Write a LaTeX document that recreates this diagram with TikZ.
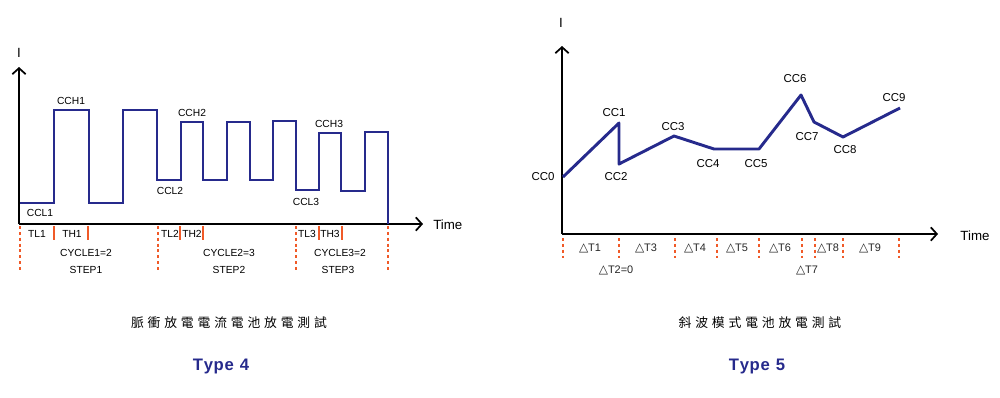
\documentclass[tikz,border=0pt]{standalone}
\usepackage{fontspec}
\setmainfont{Liberation Sans}
\newfontfamily\cjkfont[LetterSpace=30]{Noto Sans CJK TC}
\newfontfamily\trifont{DejaVu Sans}
\usetikzlibrary{arrows.meta}
\definecolor{wave}{HTML}{262A8C}
\definecolor{mark}{HTML}{F05A28}
\definecolor{typeblue}{HTML}{262A8C}
\newcommand{\tri}{{\trifont\fontsize{9}{10}\selectfont △}}
\begin{document}
\begin{tikzpicture}[x=0.75pt,y=-0.75pt,
  axis/.style={line width=1.3pt,-{Straight Barb[length=4.5pt,width=10pt,line width=1.3pt]}},
  waveline/.style={draw=wave,line width=1.1pt,line join=miter},
  rampline/.style={draw=wave,line width=2.2pt,line join=round},
  dashmark/.style={draw=mark,line width=1.1pt,dash pattern=on 2.2pt off 2.2pt},
  tickmark/.style={draw=mark,line width=1.1pt},
  lbl/.style={inner sep=0pt,font=\fontsize{7.7}{9}\selectfont},
  clbl/.style={inner sep=0pt,font=\fontsize{8.6}{10}\selectfont},
  tlbl/.style={inner sep=0pt,font=\fontsize{8.2}{10}\selectfont,text=black!85},
  axlbl/.style={inner sep=0pt,font=\fontsize{10}{12}\selectfont},
  captext/.style={inner sep=0pt,font=\cjkfont\fontsize{9.6}{11}\selectfont},
  typelbl/.style={inner sep=0pt,text=typeblue,font=\bfseries\fontsize{12.5}{14}\selectfont}]
\useasboundingbox (0,0) rectangle (1000,397);
% ---------- Type 4 ----------
\coordinate (o1) at (19,224);
\coordinate (yt1) at (19,67);
\coordinate (xt1) at (423,224);
\draw[axis] (o1) -- (yt1);
\draw[axis] (o1) -- (xt1);
\node[axlbl] (I1) at (19,53) {I};
\node[axlbl,anchor=west] (T1) at (433,225) {Time};
\draw[waveline] (20,203) -- (54,203) -- (54,110) -- (89,110) -- (89,203) -- (123,203) -- (123,110) -- (157,110)
  -- (157,180) -- (181,180) -- (181,122) -- (203,122) -- (203,180) -- (227,180) -- (227,122) -- (250,122)
  -- (250,180) -- (273,180) -- (273,121) -- (296,121) -- (296,190) -- (319,190) -- (319,133) -- (341,133)
  -- (341,191) -- (365,191) -- (365,132) -- (388,132) -- (388,224);
\node[lbl] (cch1) at (71,101) {CCH1};
\node[lbl] (ccl1) at (40,213) {CCL1};
\node[lbl] (cch2) at (192,113) {CCH2};
\node[lbl] (ccl2) at (170,191) {CCL2};
\node[lbl] (cch3) at (329,124) {CCH3};
\node[lbl] (ccl3) at (306,202) {CCL3};
\foreach \x in {20,158,296,388} \draw[dashmark] (\x,226) -- (\x,270);
\foreach \x in {54,88,180,203,319,342} \draw[tickmark] (\x,226) -- (\x,240);
\node[lbl] (tl1) at (37,234) {TL1};
\node[lbl] (th1) at (72,234) {TH1};
\node[lbl] (tl2) at (170,234) {TL2};
\node[lbl] (th2) at (192,234) {TH2};
\node[lbl] (tl3) at (307,234) {TL3};
\node[lbl] (th3) at (330,234) {TH3};
\node[lbl] (cy1) at (86,253) {CYCLE1=2};
\node[lbl] (st1) at (86,270) {STEP1};
\node[lbl] (cy2) at (229,253) {CYCLE2=3};
\node[lbl] (st2) at (229,270) {STEP2};
\node[lbl] (cy3) at (340,253) {CYCLE3=2};
\node[lbl] (st3) at (338,270) {STEP3};
\node[captext] (cap1) at (229,323) {脈衝放電電流電池放電測試};
\node[typelbl] (type4) at (221,366) {T\kern0.5pt y\kern0.5pt p\kern0.5pt e\kern1pt\ 4};
% ---------- Type 5 ----------
\coordinate (o2) at (562,234);
\coordinate (yt2) at (562,46);
\coordinate (xt2) at (938,234);
\draw[axis] (o2) -- (yt2);
\draw[axis] (o2) -- (xt2);
\node[axlbl] (I2) at (561,23) {I};
\node[axlbl] (T2) at (975,236) {Time};
\coordinate (p0) at (563,177);
\coordinate (p1) at (619,123);
\coordinate (p2) at (619,164);
\coordinate (p3) at (674,136);
\coordinate (p4) at (714,149);
\coordinate (p5) at (759,149);
\coordinate (p6) at (801,95);
\coordinate (p7) at (814,122);
\coordinate (p8) at (843,137);
\coordinate (p9) at (900,108);
\draw[rampline] (p0) -- (p1) -- (p2) -- (p3) -- (p4) -- (p5) -- (p6) -- (p7) -- (p8) -- (p9);
\node[clbl] (cc0) at (543,177) {CC0};
\node[clbl] (cc1) at (614,113) {CC1};
\node[clbl] (cc2) at (616,177) {CC2};
\node[clbl] (cc3) at (673,127) {CC3};
\node[clbl] (cc4) at (708,164) {CC4};
\node[clbl] (cc5) at (756,164) {CC5};
\node[clbl] (cc6) at (795,79) {CC6};
\node[clbl] (cc7) at (807,137) {CC7};
\node[clbl] (cc8) at (845,150) {CC8};
\node[clbl] (cc9) at (894,98) {CC9};
\foreach \x in {563,619,675,717,759,802,815,843,899} \draw[dashmark] (\x,238) -- (\x,258);
\node[tlbl] (dt1) at (590,248) {\tri T1};
\node[tlbl] (dt3) at (646,248) {\tri T3};
\node[tlbl] (dt4) at (695,248) {\tri T4};
\node[tlbl] (dt5) at (737,248) {\tri T5};
\node[tlbl] (dt6) at (780,248) {\tri T6};
\node[tlbl] (dt8) at (828,248) {\tri T8};
\node[tlbl] (dt9) at (870,248) {\tri T9};
\node[tlbl] (dt2) at (616,270) {\tri T2=0};
\node[tlbl] (dt7) at (807,270) {\tri T7};
\node[captext] (cap2) at (760,323) {斜波模式電池放電測試};
\node[typelbl] (type5) at (757,366) {T\kern0.5pt y\kern0.5pt p\kern0.5pt e\kern1pt\ 5};
\end{tikzpicture}
\end{document}
